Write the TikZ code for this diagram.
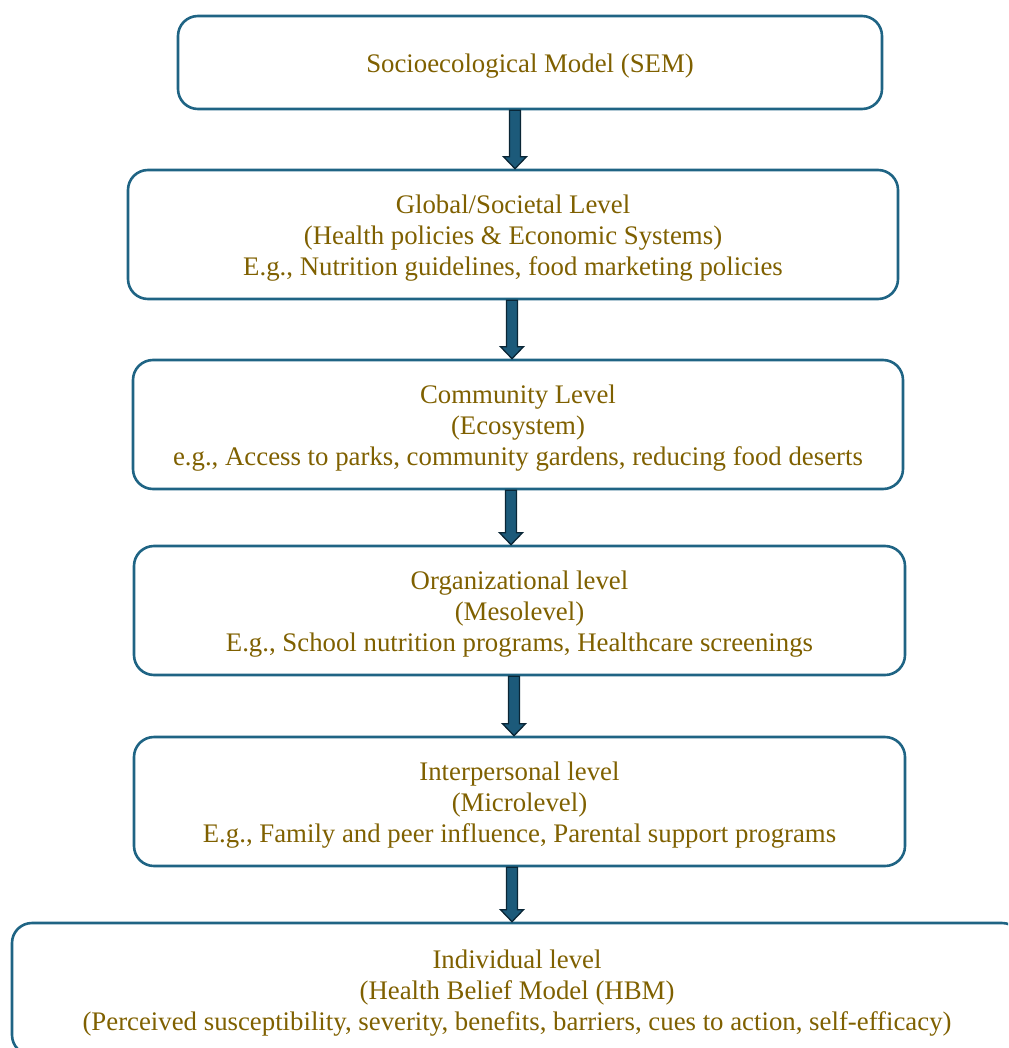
\documentclass[tikz,border=0pt]{standalone}
\usepackage{fontspec}
\setmainfont{Liberation Serif}
\usetikzlibrary{calc}
\definecolor{boxline}{RGB}{31,100,132}
\definecolor{txtgold}{RGB}{127,96,0}
\definecolor{arrfill}{RGB}{28,90,122}
\definecolor{arrline}{RGB}{10,38,54}
\newcommand\lvlstrut{\rule{0pt}{26.5pt}}
\tikzset{
  level/.style={draw=boxline,line width=2.6pt,rounded corners=20pt,
    text=txtgold,align=center,font=\fontsize{26.8}{31}\selectfont,
    inner sep=0pt},
  blockarr/.style={fill=arrfill,draw=arrline,line width=1.3pt,
    to path={let \p1=(\tikztostart), \p2=(\tikztotarget) in
      (\x1-5.5pt,\y1) -- (\x1+5.5pt,\y1) -- (\x1+5.5pt,\y2+12pt)
      -- (\x1+11.5pt,\y2+12pt) -- (\x1,\y2) -- (\x1-11.5pt,\y2+12pt)
      -- (\x1-5.5pt,\y2+12pt) -- cycle}}
}
\begin{document}
\begin{tikzpicture}[x=1pt,y=-1pt]
  \useasboundingbox (0,0) rectangle (1008,1048);
  \clip (0,0) rectangle (1008,1048);
  % the levels, top to bottom
  \node[level,minimum width=704,minimum height=93] (sem) at (530,62.5)
    {\lvlstrut Socioecological Model (SEM)};
  \node[level,minimum width=770,minimum height=129] (glob) at (513,234.5)
    {\lvlstrut Global/Societal Level\\(Health policies \& Economic Systems)\\E.g., Nutrition guidelines, food marketing policies};
  \node[level,minimum width=770,minimum height=129] (comm) at (518,424.5)
    {\lvlstrut Community Level\\(Ecosystem)\\e.g., Access to parks, community gardens, reducing food deserts};
  \node[level,minimum width=771,minimum height=129] (org) at (519.5,610.5)
    {\lvlstrut Organizational level\\(Mesolevel)\\E.g., School nutrition programs, Healthcare screenings};
  \node[level,minimum width=771,minimum height=129] (inter) at (519.5,801.5)
    {\lvlstrut Interpersonal level\\(Microlevel)\\E.g., Family and peer influence, Parental support programs};
  \node[level,minimum width=1010,minimum height=132] (indiv) at (517,989)
    {\lvlstrut Individual level\\(Health Belief Model (HBM)\\(Perceived susceptibility, severity, benefits, barriers, cues to action, self-efficacy)};
  % block arrows
  \draw[blockarr] (sem.south -| 515,0) to (glob.north -| 515,0);
  \draw[blockarr] (glob.south -| 512,0) to (comm.north -| 512,0);
  \draw[blockarr] (comm.south -| 511,0) to (org.north -| 511,0);
  \draw[blockarr] (org.south -| 514,0) to (inter.north -| 514,0);
  \draw[blockarr] (inter.south -| 512,0) to (indiv.north -| 512,0);
\end{tikzpicture}
\end{document}
